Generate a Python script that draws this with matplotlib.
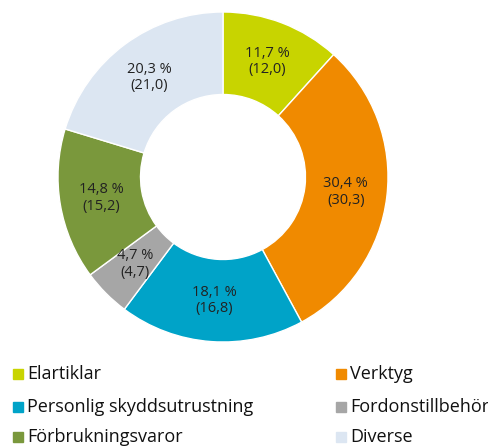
import matplotlib.pyplot as plt
from matplotlib.patches import Rectangle

categories = ['Elartiklar', 'Verktyg', 'Personlig skyddsutrustning',
              'Fordonstillbehör', 'Förbrukningsvaror', 'Diverse']
shares = [11.7, 30.4, 18.1, 4.7, 14.8, 20.3]
previous = [12.0, 30.3, 16.8, 4.7, 15.2, 21.0]
colors = ['#c8d400', '#f08a00', '#00a3c8', '#a6a6a6', '#7a983c', '#dce6f2']

plt.rcParams['font.family'] = ['Open Sans', 'DejaVu Sans']

W, H = 489, 446
fig = plt.figure(figsize=(W / 100, H / 100), dpi=100)
cx, cy, R = 223, 177, 165
ax = fig.add_axes([(cx - R) / W, (H - cy - R) / H, 2 * R / W, 2 * R / H])

labels = [f"{s:.1f} %\n({p:.1f})".replace('.', ',') for s, p in zip(shares, previous)]
wedges, texts = ax.pie(shares, colors=colors, startangle=90, counterclock=False,
                       radius=1.0, labels=labels, labeldistance=0.75,
                       wedgeprops=dict(width=0.5, edgecolor='white', linewidth=1))
for t in texts:
    t.set_horizontalalignment('center')
    t.set_verticalalignment('center')
    t.set_fontsize(10.5)
    t.set_color('#222222')
    t.set_linespacing(1.15)
ax.set_xlim(-1, 1)
ax.set_ylim(-1, 1)
ax.set_aspect('equal')
ax.axis('off')

# legend, two columns, row-major
rows_y = [374, 407, 437]
cols_x = [13, 336]
for i, (name, col) in enumerate(zip(categories, colors)):
    r, c = divmod(i, 2)
    x, y = cols_x[c], rows_y[r]
    fig.add_artist(Rectangle((x / W, (H - y - 5) / H), 10 / W, 10 / H,
                             transform=fig.transFigure, color=col))
    fig.text((x + 14) / W, (H - y) / H, name, fontsize=13, color='#111111',
             va='center', ha='left')

fig.savefig('out.png', dpi=100)
